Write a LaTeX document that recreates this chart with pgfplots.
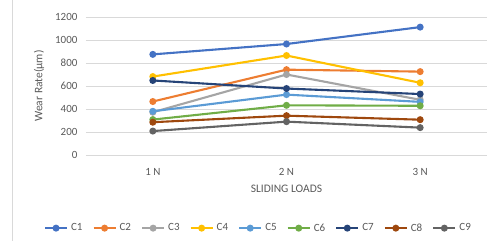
\documentclass[border=0pt]{standalone}
\usepackage{pgfplots}
\pgfplotsset{compat=1.18}
\usepackage{fontspec}
\setmainfont{Carlito}
\definecolor{c1}{HTML}{4472C4}
\definecolor{c2}{HTML}{ED7D31}
\definecolor{c3}{HTML}{A5A5A5}
\definecolor{c4}{HTML}{FFC000}
\definecolor{c5}{HTML}{5B9BD5}
\definecolor{c6}{HTML}{70AD47}
\definecolor{c7}{HTML}{264478}
\definecolor{c8}{HTML}{9E480E}
\definecolor{c9}{HTML}{636363}
\definecolor{txt}{HTML}{595959}
\begin{document}
\begin{tikzpicture}[x=1pt,y=1pt]
\useasboundingbox (-86,-90) rectangle (409,155);
\draw[color=black!15, line width=0.8pt] (-74,-86) -- (-74,155);
\begin{axis}[
  at={(0,0)}, anchor=south west,
  scale only axis, width=401pt, height=138pt,
  xmin=-0.5, xmax=2.5, ymin=0, ymax=1200,
  xtick={0,1,2}, xticklabels={1 N,2 N,3 N},
  ytick={0,200,...,1200},
  ymajorgrids, grid style={color=black!15, line width=0.6pt},
  axis line style={draw=none},
  major tick length=0pt,
  tick label style={font=\fontsize{11}{12}\selectfont, text=txt},
  /pgf/number format/assume math mode=true,
  /pgf/number format/1000 sep={},
  yticklabel style={xshift=-5pt},
  xticklabel style={yshift=-10pt},
  xlabel={SLIDING LOADS}, ylabel={Wear Rate(µm)},
  label style={font=\fontsize{11.5}{12}\selectfont, text=txt},
  xlabel style={yshift=-2pt},
  ylabel style={yshift=4pt},
  every axis plot/.append style={line width=2.1pt, mark=*, mark size=2.4pt},
  legend style={at={(0.43,-0.53)}, anchor=center, draw=none, font=\fontsize{11}{12}\selectfont, text=txt, legend columns=9, column sep=1pt, /tikz/every even column/.append style={column sep=8pt}},
  legend image code/.code={\draw[#1, line width=2.1pt] (0pt,0pt) -- (22pt,0pt); \draw[#1, mark repeat=2] plot coordinates {(11pt,0pt)};},
]
\addplot[c1, mark options={fill=c1}] coordinates {(0,875) (1,965) (2,1112)};
\addplot[c2, mark options={fill=c2}] coordinates {(0,465) (1,742) (2,725)};
\addplot[c3, mark options={fill=c3}] coordinates {(0,372) (1,700) (2,480)};
\addplot[c4, mark options={fill=c4}] coordinates {(0,682) (1,865) (2,628)};
\addplot[c5, mark options={fill=c5}] coordinates {(0,380) (1,525) (2,462)};
\addplot[c6, mark options={fill=c6}] coordinates {(0,308) (1,432) (2,428)};
\addplot[c7, mark options={fill=c7}] coordinates {(0,648) (1,578) (2,530)};
\addplot[c8, mark options={fill=c8}] coordinates {(0,285) (1,342) (2,307)};
\addplot[c9, mark options={fill=c9}] coordinates {(0,208) (1,290) (2,238)};
\legend{C1,C2,C3,C4,C5,C6,C7,C8,C9}
\end{axis}
\end{tikzpicture}
\end{document}
